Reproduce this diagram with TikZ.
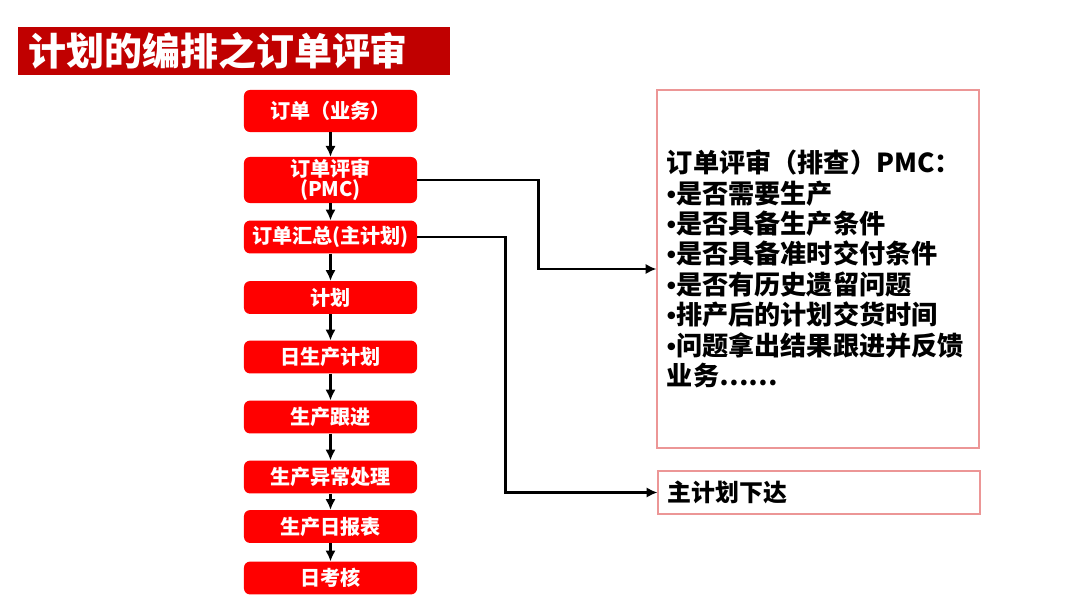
\documentclass[tikz,border=0pt]{standalone}
\usepackage{fontspec}
\setmainfont{Noto Sans CJK SC}
\newfontfamily\dotfont{Liberation Sans}
\usetikzlibrary{arrows.meta,positioning}
\definecolor{TitleRed}{RGB}{192,0,0}
\definecolor{BoxRed}{RGB}{255,0,0}
\definecolor{EdgePink}{RGB}{236,150,150}
\newcommand{\bul}{{\dotfont\bfseries •}}

\begin{document}
\begin{tikzpicture}[x=0.025cm, y=-0.025cm,
    flow/.style={fill=BoxRed, rounded corners=0.15cm, minimum width=4.325cm, minimum height=0.82cm, inner sep=0pt, text=white, align=center, font=\fontsize{14.3}{14.5}\selectfont\bfseries},
    note/.style={draw=EdgePink, line width=0.8pt, minimum width=8.05cm, text width=7.55cm, inner xsep=0.25cm, align=left, font=\fontsize{18.6}{21.6}\selectfont\bfseries},
    link/.style={-{Latex[length=2.7mm,width=2.6mm]}, line width=2.1pt}]
  \useasboundingbox (0,0) rectangle (1080,600);
  % title bar
  \node[fill=TitleRed, text=white, anchor=west, minimum height=1.2cm, text width=10.3cm, inner xsep=0.25cm, align=left,
    font=\fontsize{27}{30}\selectfont\bfseries] (title) at (18,51) {计划的编排之订单评审};
  % flow on the left
  \node[flow, minimum height=1.05cm] (order) at (330.5,111) {订单（业务）};
  \node[flow, minimum height=1.15cm] (pmc) at (330.5,180) {订单评审\\(PMC)};
  \node[flow] (sum) at (330.5,237) {订单汇总(主计划)};
  \node[flow] (plan) at (330.5,297.5) {计划};
  \node[flow] (daily) at (330.5,357) {日生产计划};
  \node[flow] (follow) at (330.5,417) {生产跟进};
  \node[flow] (except) at (330.5,477) {生产异常处理};
  \node[flow] (report) at (330.5,526.5) {生产日报表};
  \node[flow] (assess) at (330.5,578) {日考核};
  \draw[link] (order) -- (pmc);
  \draw[link] (pmc) -- (sum);
  \draw[link] (sum) -- (plan);
  \draw[link] (plan) -- (daily);
  \draw[link] (daily) -- (follow);
  \draw[link] (follow) -- (except);
  \draw[link] (except) -- (report);
  \draw[link] (report) -- (assess);
  % notes on the right
  \node[note, minimum height=8.95cm] (review) at (818,269) {订单评审（排查）PMC：\\
    \bul 是否需要生产\\
    \bul 是否具备生产条件\\
    \bul 是否具备准时交付条件\\
    \bul 是否有历史遗留问题\\
    \bul 排产后的计划交货时间\\
    \bul 问题拿出结果跟进并反馈\\
    业务……};
  \node[note, minimum height=1.075cm, font=\fontsize{17}{20}\selectfont\bfseries] (issue) at (819,492.5) {主计划下达};
  \draw[link] (pmc.east) -- ++(121,0) |- (review.west);
  \draw[link] (sum.east) -- ++(88,0) |- (issue.west);
\end{tikzpicture}
\end{document}
